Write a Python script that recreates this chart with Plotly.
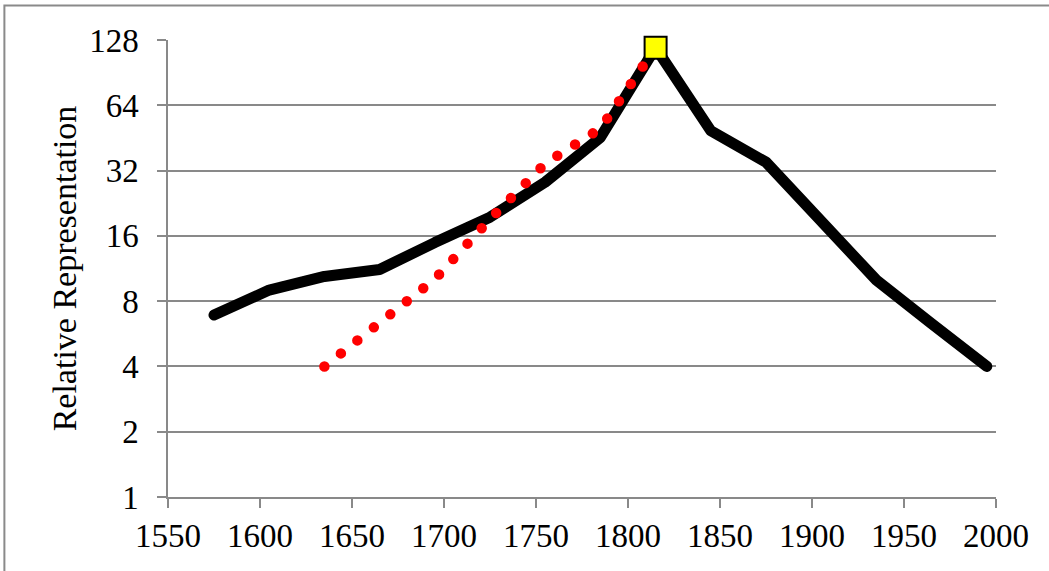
import plotly.graph_objects as go

# Data
years_black = [1575, 1605, 1635, 1665, 1695, 1725, 1755, 1785, 1815,
               1845, 1875, 1905, 1935, 1965, 1995]
values_black = [6.9, 9.0, 10.4, 11.2, 14.9, 19.5, 28.3, 45.5, 118,
                48.8, 35.0, 19.0, 10.0, 6.3, 4.0]

years_red = [1635, 1665, 1695, 1725, 1755, 1785, 1815]
values_red = [4.0, 6.3, 10.1, 19.1, 34.5, 50.0, 118]

y_ticks = [1, 2, 4, 8, 16, 32, 64, 128]
y_tick_labels = ["1", "2", "4", "8", "16", "32", "64", "128"]
x_ticks = [1550, 1600, 1650, 1700, 1750, 1800, 1850, 1900, 1950, 2000]

peak_idx = values_black.index(max(values_black))

FONT = "Liberation Serif"
GRID = "#898989"

fig = go.Figure()
fig.add_trace(go.Scatter(
    x=years_black, y=values_black, mode="lines",
    line=dict(color="black", width=11), hoverinfo="skip", showlegend=False))
fig.add_trace(go.Scatter(
    x=years_red, y=values_red, mode="lines",
    line=dict(color="#FF0000", width=10.5, dash="0px,21px"),
    hoverinfo="skip", showlegend=False))
fig.add_trace(go.Scatter(
    x=[years_black[peak_idx]], y=[values_black[peak_idx]], mode="markers",
    marker=dict(symbol="square", size=22, color="#FFFF00",
                line=dict(color="black", width=2)),
    cliponaxis=False, hoverinfo="skip", showlegend=False))

fig.update_layout(
    width=1049, height=571,
    margin=dict(l=168, r=53, t=40, b=74, pad=0),
    paper_bgcolor="white", plot_bgcolor="white",
    font=dict(family=FONT, size=33, color="black"),
    xaxis=dict(
        range=[1550, 2000], tickvals=x_ticks, ticktext=[str(v) for v in x_ticks],
        showgrid=False, zeroline=False,
        showline=True, linecolor=GRID, linewidth=1.5,
        ticks="outside", ticklen=9, tickcolor=GRID, tickwidth=1.5,
        ticklabelstandoff=0,
        tickfont=dict(family=FONT, size=33, color="black"),
    ),
    yaxis=dict(
        type="log", range=[0, 2.10721], tickvals=y_ticks, ticktext=y_tick_labels,
        showgrid=True, gridcolor=GRID, gridwidth=1.5, zeroline=False,
        showline=True, linecolor=GRID, linewidth=1.5,
        ticks="outside", ticklen=9, tickcolor=GRID, tickwidth=1.5,
        ticklabelstandoff=12,
        tickfont=dict(family=FONT, size=33, color="black"),
        title=dict(text="Relative Representation", standoff=2,
                   font=dict(family=FONT, size=34, color="black")),
    ),
    shapes=[dict(type="rect", xref="paper", yref="paper",
                 x0=-0.1976, x1=1.2, y0=-0.3, y1=1.0756,
                 line=dict(color="#8a8a8a", width=2), fillcolor="rgba(0,0,0,0)",
                 layer="below")],
)

post = """
document.body.style.margin='0';
document.body.style.overflow='hidden';
document.querySelectorAll('.scatterlayer .js-line').forEach(function(p){
  p.style.strokeLinecap='round'; p.style.strokeLinejoin='round';
});
"""
fig.write_html("out.html", config={"displayModeBar": False}, post_script=post)
